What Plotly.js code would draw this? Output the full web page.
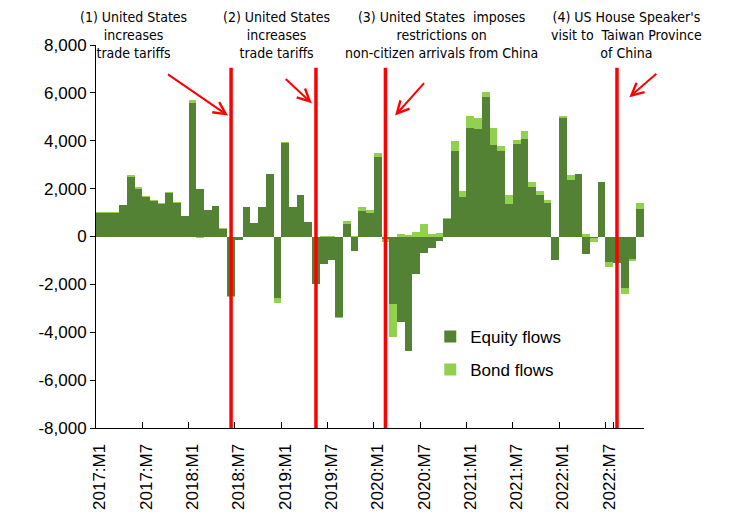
<!DOCTYPE html>
<html>
<head>
<meta charset="utf-8">
<script src="https://cdn.plot.ly/plotly-3.0.1.min.js"></script>
<style>
  html, body { margin: 0; padding: 0; background: #ffffff; }
  #chart { width: 737px; height: 516px; }
</style>
</head>
<body>
<div id="chart"></div>
<script>
// ---- Data ----
var months = [
  '2017:M1','2017:M2','2017:M3','2017:M4','2017:M5','2017:M6','2017:M7','2017:M8','2017:M9','2017:M10','2017:M11','2017:M12',
  '2018:M1','2018:M2','2018:M3','2018:M4','2018:M5','2018:M6','2018:M7','2018:M8','2018:M9','2018:M10','2018:M11','2018:M12',
  '2019:M1','2019:M2','2019:M3','2019:M4','2019:M5','2019:M6','2019:M7','2019:M8','2019:M9','2019:M10','2019:M11','2019:M12',
  '2020:M1','2020:M2','2020:M3','2020:M4','2020:M5','2020:M6','2020:M7','2020:M8','2020:M9','2020:M10','2020:M11','2020:M12',
  '2021:M1','2021:M2','2021:M3','2021:M4','2021:M5','2021:M6','2021:M7','2021:M8','2021:M9','2021:M10','2021:M11','2021:M12',
  '2022:M1','2022:M2','2022:M3','2022:M4','2022:M5','2022:M6','2022:M7','2022:M8','2022:M9','2022:M10','2022:M11'
];

var equityFlows = [
  1000, 1000, 1000, 1300, 2500, 1990, 1660, 1500, 1370, 1830, 1420, 840,
  5580, 1990, 1120, 1260, 310, -2480, -150, 1230, 560, 1230, 2620, -2550,
  3900, 1230, 1745, 600, -1990, -1155, -975, -3350, 530, -600, 1045, 975,
  3320, -100, -2830, -3555, -4770, -1575, -700, -470, -200, 740, 3570, 1650,
  4540, 4490, 5815, 3840, 3575, 1360, 3860, 4075, 2060, 1745, 1400, -975,
  4950, 2340, 2610, -725, -50, 2260, -1070, -1110, -2160, -930, 1160
];

var bondFlows = [
  30, 30, 30, 30, 50, 60, 40, 35, 30, 30, 30, 30,
  140, -60, -30, 30, 25, -30, 0, -40, 0, -40, 0, -210,
  40, -40, 0, 0, 0, 40, 30, -65, 100, 20, 170, 140,
  170, -150, -1355, 100, 50, 170, 520, 100, 130, 20, 400, 260,
  510, 440, 225, 700, 220, 385, 160, 345, 210, 140, 135, 0,
  100, 240, 0, 100, -200, 0, -185, 0, -250, -85, 240
];

var seriesNames = ['Equity flows', 'Bond flows'];
var seriesColors = ['#548235', '#92D050'];

var yTickVals = [-8000, -6000, -4000, -2000, 0, 2000, 4000, 6000, 8000];

// Events: month of the red line, label text, arrow head (category index, value) and tail offset (px)
var eventMonths = ['2018:M6', '2019:M5', '2020:M2', '2022:M8'];
var eventLabels = [
  '(1) United States<br>increases<br>trade tariffs',
  '(2) United States<br>increases<br>trade tariffs',
  '(3) United States  imposes<br>restrictions on<br>non-citizen arrivals from China',
  '(4) US House Speaker\'s<br>visit to  Taiwan Province<br>of China'
];
var eventLabelX = [0.068, 0.330, 0.630, 0.968];
var arrowHeadX = [16.6, 27.45, 38.25, 68.6];
var arrowHeadY = [5050, 5570, 5050, 5820];
var arrowTailDX = [-64, -30, 33, 31];
var arrowTailDY = [-44, -28, -37, -27];
var eventLineTop = 7050;

// ---- Build chart ----
function fmt(v) {
  var s = Math.abs(v).toString().replace(/\B(?=(\d{3})+(?!\d))/g, ',');
  return (v < 0 ? '-' : '') + s;
}
var yTickText = yTickVals.map(fmt);
var xTickVals = months.filter(function (m, i) { return i % 6 === 0; });

var baseFont = 'Liberation Sans, Arial, Helvetica, sans-serif';
var narrowFont = 'Liberation Sans Narrow, Arial Narrow, DejaVu Sans Condensed, Liberation Sans, sans-serif';

var traces = [
  {
    type: 'bar', x: months, y: equityFlows, name: seriesNames[0],
    marker: { color: seriesColors[0], line: { width: 0 } },
    legendgroup: 'a'
  },
  {
    type: 'bar', x: months, y: bondFlows, name: seriesNames[1],
    marker: { color: seriesColors[1], line: { width: 0 } },
    legendgroup: 'b'
  }
];

var shapes = eventMonths.map(function (m) {
  return {
    type: 'line', xref: 'x', yref: 'y',
    x0: m, x1: m, y0: yTickVals[0], y1: eventLineTop,
    line: { color: '#FF0000', width: 3.5 }, layer: 'above'
  };
});

var annotations = [];
eventLabels.forEach(function (t, i) {
  annotations.push({
    xref: 'paper', yref: 'paper', x: eventLabelX[i], y: 1.025,
    xanchor: 'center', yanchor: 'middle', align: 'center',
    text: t, showarrow: false,
    font: { family: narrowFont, size: 14, color: '#000000' }
  });
  annotations.push({
    xref: 'x', yref: 'y', x: arrowHeadX[i], y: arrowHeadY[i],
    ax: arrowTailDX[i], ay: arrowTailDY[i],
    text: ' ', showarrow: true,
    arrowcolor: '#FF0000', arrowwidth: 2, arrowhead: 5, arrowsize: 1.2,
    standoff: 0, startstandoff: 0
  });
});

var layout = {
  width: 737, height: 516,
  margin: { l: 96, r: 93, t: 45, b: 88, pad: 0 },
  paper_bgcolor: '#ffffff', plot_bgcolor: '#ffffff',
  barmode: 'relative', bargap: 0,
  font: { family: baseFont, size: 17, color: '#000000' },
  showlegend: true,
  legend: {
    x: 0.61, y: 0.285, xanchor: 'left', yanchor: 'top',
    bgcolor: 'rgba(0,0,0,0)', traceorder: 'grouped', tracegroupgap: 8,
    font: { family: baseFont, size: 17, color: '#000000' }
  },
  xaxis: {
    type: 'category', range: [-0.5, months.length - 0.5],
    tickmode: 'array', tickvals: xTickVals, tickson: 'boundaries',
    ticks: 'inside', ticklen: 6, tickcolor: '#000000', tickwidth: 1,
    tickangle: -90, ticklabelstandoff: 8,
    showline: true, linecolor: '#000000', linewidth: 1,
    showgrid: false, zeroline: false,
    tickfont: { family: baseFont, size: 17, color: '#000000' },
    fixedrange: true
  },
  yaxis: {
    range: [yTickVals[0], yTickVals[yTickVals.length - 1]],
    tickmode: 'array', tickvals: yTickVals, ticktext: yTickText,
    ticks: 'outside', ticklen: 5, tickcolor: '#000000', tickwidth: 1,
    showline: true, linecolor: '#000000', linewidth: 1,
    showgrid: false, zeroline: false,
    tickfont: { family: baseFont, size: 17, color: '#000000' },
    fixedrange: true
  },
  shapes: shapes,
  annotations: annotations
};

Plotly.newPlot('chart', traces, layout, { displayModeBar: false, staticPlot: true });
</script>
</body>
</html>
